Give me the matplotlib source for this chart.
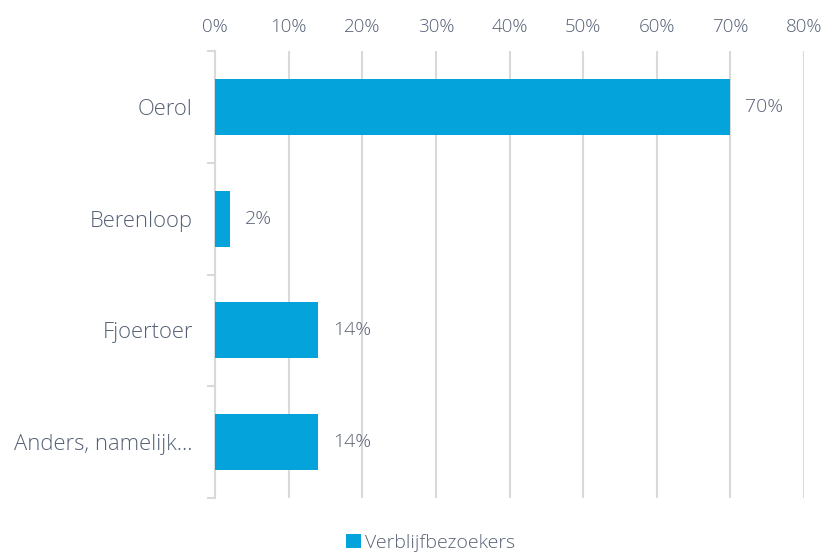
import matplotlib.pyplot as plt
import numpy as np

categories = ["Oerol", "Berenloop", "Fjoertoer", "Anders, namelijk..."]
values = [70, 2, 14, 14]
xticks = [0, 10, 20, 30, 40, 50, 60, 70, 80]
series_name = "Verblijfbezoekers"

blue = "#04a3dc"
txt = "#566175"
grid = "#d9d9d9"

plt.rcParams['font.family'] = ['Open Sans', 'DejaVu Sans']
plt.rcParams['font.weight'] = 300

fig = plt.figure(figsize=(8.25, 5.57), dpi=100)
ax = fig.add_axes([0.2606, 0.1059, 0.714, 0.8025])

y = np.arange(len(categories))
bars = ax.barh(y, values, height=0.5, color=blue, label=series_name, zorder=3)
ax.set_ylim(len(categories) - 0.5, -0.5)
ax.set_xlim(0, 80)

ax.xaxis.tick_top()
ax.set_xticks(xticks)
ax.set_xticklabels([f"{t}%" for t in xticks], color=txt, fontsize=13.5)
ax.tick_params(axis='x', length=0, pad=11)
ax.grid(axis='x', color=grid, linewidth=1.5, zorder=0)

ax.set_yticks(y)
ax.set_yticklabels(categories, color=txt, fontsize=15.8)
ax.tick_params(axis='y', which='major', length=0, pad=16)
ax.set_yticks(np.arange(-0.5, len(categories)), minor=True)
ax.tick_params(axis='y', which='minor', length=6, width=1.5, color=grid)

for s in ['top', 'right', 'bottom']:
    ax.spines[s].set_visible(False)
ax.spines['left'].set_color(grid)
ax.spines['left'].set_linewidth(1.5)

for b, v in zip(bars, values):
    ax.text(v + 2.0, b.get_y() + b.get_height() / 2, f"{v}%", va='center',
            ha='left', color=txt, fontsize=14)

fig.legend(handles=[bars], labels=[series_name], loc='lower center',
           bbox_to_anchor=(0.522, -0.022), frameon=False, fontsize=14,
           handlelength=0.75, handleheight=0.75, handletextpad=0.2, labelcolor=txt)

fig.savefig("out.png", dpi=100)
